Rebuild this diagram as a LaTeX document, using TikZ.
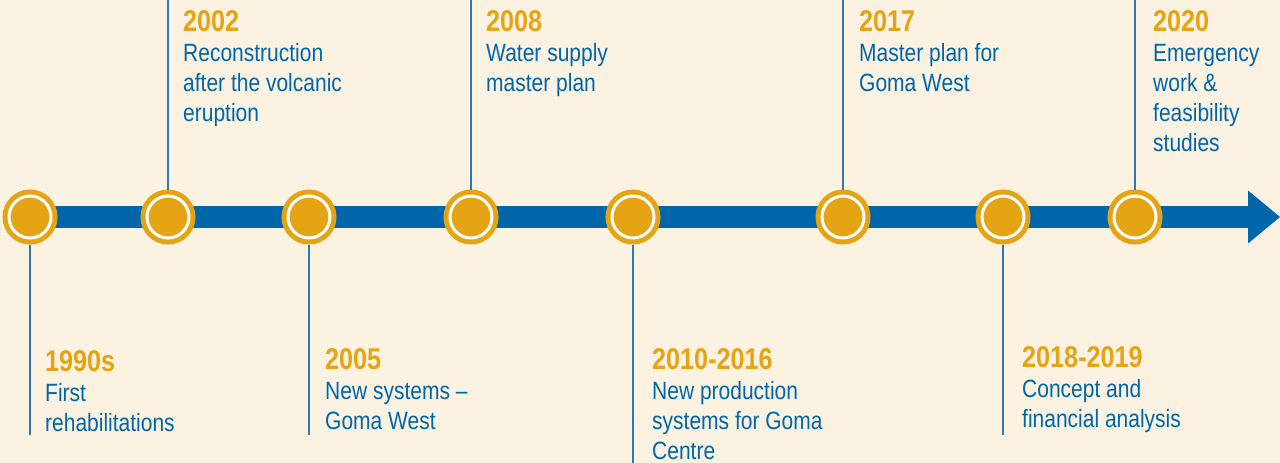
\documentclass[tikz,border=0pt]{standalone}
\usepackage{fontspec}
\setmainfont{Liberation Sans}[FakeStretch=0.84]
\usetikzlibrary{arrows.meta}
\definecolor{paper}{HTML}{FCF2E2}
\definecolor{gold}{HTML}{E4A414}
\definecolor{barblue}{HTML}{0066AA}
\definecolor{stemblue}{HTML}{2F78B4}
\newcommand{\yr}[1]{{\fontsize{30}{30}\selectfont\bfseries\color{gold}#1}}
\tikzset{
  dot/.style={circle, fill=gold, draw=gold, double=white, double distance=3pt, line width=5pt,
    minimum size=42pt, inner sep=0pt, outer sep=6.5pt},
  stem/.style={draw=stemblue, line width=1.5pt},
  % base anchor sits on the last line
  event/.style={anchor=base west, align=left, inner sep=0pt, text=barblue,
    font=\fontsize{25}{30}\selectfont},
}

\begin{document}
\begin{tikzpicture}[x=1pt,y=1pt]
\fill[paper] (0,0) rectangle (1280,-463);
\useasboundingbox (0,0) rectangle (1280,-463);
\coordinate (tip) at (1280,-217);
\coordinate (c1) at (30,-217);
\draw [barblue, line width=22pt, -{Triangle[length=32pt, width=53pt, line width=0pt]}] (c1) -- (tip);
\node [dot] (a) at (30,-217) {};
\node [dot] (b) at (168,-217) {};
\node [dot] (c) at (309,-217) {};
\node [dot] (d) at (471,-217) {};
\node [dot] (e) at (633,-217) {};
\node [dot] (f) at (843,-217) {};
\node [dot] (g) at (1003,-217) {};
\node [dot] (h) at (1135,-217) {};
\coordinate (at) at (30,-435);
\coordinate (bt) at (168,0);
\coordinate (ct) at (309,-435);
\coordinate (dt) at (471,0);
\coordinate (et) at (633,-463);
\coordinate (ft) at (843,0);
\coordinate (gt) at (1003,-435);
\coordinate (ht) at (1135,0);
\draw [stem] (a) -- (at);
\draw [stem] (b) -- (bt);
\draw [stem] (c) -- (ct);
\draw [stem] (d) -- (dt);
\draw [stem] (e) -- (et);
\draw [stem] (f) -- (ft);
\draw [stem] (g) -- (gt);
\draw [stem] (h) -- (ht);
\node [event] (la) at (45,-431) {\yr{1990s}\\First\\rehabilitations};
\node [event] (lb) at (183,-121) {\yr{2002}\\Reconstruction\\after the volcanic\\eruption};
\node [event] (lc) at (325,-429) {\yr{2005}\\New systems –\\Goma West};
\node [event] (ld) at (486,-91) {\yr{2008}\\Water supply\\master plan};
\node [event] (le) at (652,-459) {\yr{2010-2016}\\New production\\systems for Goma\\Centre};
\node [event] (lf) at (859,-91) {\yr{2017}\\Master plan for\\Goma West};
\node [event] (lg) at (1022,-427) {\yr{2018-2019}\\Concept and\\financial analysis};
\node [event] (lh) at (1153,-151) {\yr{2020}\\Emergency\\work \&\\feasibility\\studies};
\end{tikzpicture}
\end{document}
